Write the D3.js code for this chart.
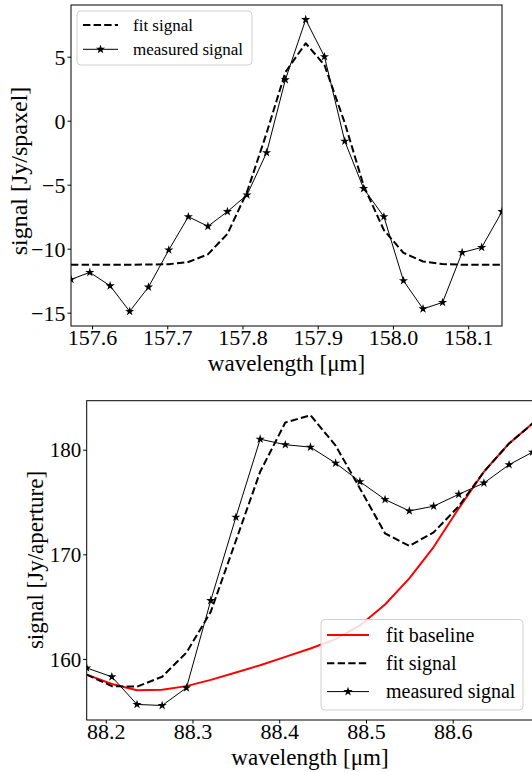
<!DOCTYPE html>
<html>
<head>
<meta charset="utf-8">
<script src="https://cdn.jsdelivr.net/npm/d3@7"></script>
<style>
  html, body { margin: 0; padding: 0; background: #fff; }
  svg { display: block; font-family: "Liberation Serif", "Times New Roman", serif; }
</style>
</head>
<body>
<svg id="chart" width="532" height="772"></svg>
<script>
// ---------- Top panel data ----------
const topWavelength = [157.572, 157.597, 157.624, 157.650, 157.675, 157.702, 157.728, 157.754, 157.780, 157.806,
  157.832, 157.857, 157.884, 157.909, 157.936, 157.961, 157.988, 158.014, 158.040, 158.066, 158.092, 158.118, 158.145];
const topMeasured = [-12.4, -11.85, -12.9, -14.9, -13.0, -10.1, -7.5, -8.25, -7.1, -5.8,
  -2.5, 3.2, 7.9, 5.0, -1.6, -5.3, -7.5, -12.5, -14.7, -14.2, -10.3, -9.9, -7.1];
const topFit = [-11.25, -11.25, -11.25, -11.25, -11.24, -11.21, -11.04, -10.44, -8.84, -5.57,
  -0.97, 3.79, 6.05, 4.35, -0.18, -5.07, -8.55, -10.32, -11.0, -11.2, -11.25, -11.25, -11.25];
const topXTicks = [157.6, 157.7, 157.8, 157.9, 158.0, 158.1];
const topYTicks = [-15, -10, -5, 0, 5];

// ---------- Bottom panel data ----------
const botWavelength = [88.178, 88.207, 88.236, 88.265, 88.293, 88.321, 88.350, 88.378, 88.407, 88.436,
  88.465, 88.493, 88.522, 88.550, 88.578, 88.607, 88.636, 88.665, 88.692];
const botMeasured = [159.14, 158.29, 155.65, 155.55, 157.24, 165.58, 173.55, 181.01, 180.48, 180.25,
  178.72, 176.95, 175.24, 174.15, 174.6, 175.74, 176.82, 178.57, 179.77];
const botFitSignal = [158.5, 157.4, 157.35, 158.3, 160.6, 164.5, 171.3, 177.9, 182.6, 183.3,
  180.4, 176.3, 172.0, 170.8, 172.1, 174.6, 177.9, 180.6, 182.5];
const botBaseline = [158.5, 157.6, 157.0, 157.05, 157.4, 158.0, 158.7, 159.4, 160.2, 161.0,
  161.9, 163.2, 165.2, 167.7, 170.7, 174.4, 177.9, 180.6, 182.5];
const botXTicks = [88.2, 88.3, 88.4, 88.5, 88.6];
const botYTicks = [160, 170, 180];

const svg = d3.select("#chart");
const fmtMinus = v => (v < 0 ? "\u2212" + Math.abs(v) : String(v));

function padded(arrs) {
  const all = arrs.flat();
  const lo = d3.min(all), hi = d3.max(all);
  const p = (hi - lo) * 0.05;
  return [lo - p, hi + p];
}

function panel(cfg) {
  const { box, xs, ys, xTicks, yTicks, xFmt, yFmt, id } = cfg;
  const x = d3.scaleLinear().domain(d3.extent(xs)).range([box.l, box.r]);
  const y = d3.scaleLinear().domain(padded(ys)).range([box.b, box.t]);
  const g = svg.append("g");
  g.append("clipPath").attr("id", id).append("rect")
    .attr("x", box.l).attr("y", box.t).attr("width", box.r - box.l).attr("height", box.b - box.t);

  const xa = g.append("g").attr("transform", `translate(0,${box.b})`)
    .call(d3.axisBottom(x).tickValues(xTicks).tickFormat(xFmt).tickSize(3.5).tickPadding(0));
  const ya = g.append("g").attr("transform", `translate(${box.l},0)`)
    .call(d3.axisLeft(y).tickValues(yTicks).tickFormat(yFmt).tickSize(3.5).tickPadding(2));
  [xa, ya].forEach(a => {
    a.select(".domain").remove();
    a.selectAll("line").attr("stroke", "#000").attr("stroke-width", 1);
    a.selectAll("text").attr("fill", "#000").style("font-family", "'Liberation Serif', 'Times New Roman', serif");
  });
  xa.selectAll("text").attr("font-size", cfg.xTickSize).attr("dy", "0.71em");
  ya.selectAll("text").attr("font-size", cfg.yTickSize).attr("dy", "0.34em");

  g.append("rect").attr("x", box.l).attr("y", box.t)
    .attr("width", box.r - box.l).attr("height", box.b - box.t)
    .attr("fill", "none").attr("stroke", "#000").attr("stroke-width", 1);

  return { x, y, g, clip: `url(#${id})` };
}

function drawLine(p, xs, vals, style) {
  const line = d3.line().x((d, i) => p.x(xs[i])).y(d => p.y(d));
  p.g.append("path").datum(vals).attr("clip-path", p.clip)
    .attr("d", line).attr("fill", "none")
    .attr("stroke", style.color).attr("stroke-width", style.width)
    .attr("stroke-dasharray", style.dash || null)
    .attr("stroke-linejoin", "round");
}
function drawStars(p, xs, vals) {
  const star = d3.symbol().type(d3.symbolStar).size(26);
  p.g.append("g").attr("clip-path", p.clip).selectAll("path").data(vals).join("path")
    .attr("transform", (d, i) => `translate(${p.x(xs[i])},${p.y(d)})`)
    .attr("d", star).attr("fill", "#000");
}

function legend(box, items, fs, handleLen, rowH, textX) {
  const g = svg.append("g");
  g.append("rect").attr("x", box.x).attr("y", box.y).attr("width", box.w).attr("height", box.h)
    .attr("rx", 4).attr("fill", "#fff").attr("fill-opacity", 0.85)
    .attr("stroke", "#d0d0d0").attr("stroke-width", 1);
  items.forEach((it, i) => {
    const cy = box.y + box.firstY + i * rowH;
    const x0 = box.x + 6;
    g.append("line").attr("x1", x0).attr("x2", x0 + handleLen).attr("y1", cy).attr("y2", cy)
      .attr("stroke", it.color).attr("stroke-width", it.width).attr("stroke-dasharray", it.dash || null);
    if (it.star) {
      g.append("path").attr("transform", `translate(${x0 + handleLen / 2},${cy})`)
        .attr("d", d3.symbol().type(d3.symbolStar).size(26)).attr("fill", "#000");
    }
    g.append("text").attr("x", box.x + textX).attr("y", cy).attr("dy", "0.33em")
      .attr("font-size", fs).attr("fill", "#000").text(it.label);
  });
}

// ---------- Top panel ----------
const topPanel = panel({
  id: "clipTop", box: { l: 71, r: 502, t: 5, b: 326 },
  xs: topWavelength, ys: [topMeasured, topFit],
  xTicks: topXTicks, yTicks: topYTicks,
  xFmt: d3.format(".1f"), yFmt: fmtMinus,
  xTickSize: 22, yTickSize: 22
});
drawLine(topPanel, topWavelength, topFit, { color: "#000", width: 2, dash: "7.4,3.2" });
drawLine(topPanel, topWavelength, topMeasured, { color: "#000", width: 1 });
drawStars(topPanel, topWavelength, topMeasured);

svg.append("text").attr("x", 286.5).attr("y", 370.5).attr("text-anchor", "middle")
  .attr("font-size", 23).text("wavelength [\u03bcm]");
svg.append("text").attr("transform", "translate(27,171) rotate(-90)").attr("text-anchor", "middle")
  .attr("font-size", 24).text("signal [Jy/spaxel]");

legend({ x: 77, y: 11, w: 175, h: 54, firstY: 14 }, [
  { label: "fit signal", color: "#000", width: 2, dash: "7.4,3.2" },
  { label: "measured signal", color: "#000", width: 1, star: true }
], 17, 35, 24.3, 56);

// ---------- Bottom panel ----------
const botPanel = panel({
  id: "clipBot", box: { l: 86.7, r: 532.5, t: 400.7, b: 720 },
  xs: botWavelength, ys: [botMeasured, botFitSignal, botBaseline],
  xTicks: botXTicks, yTicks: botYTicks,
  xFmt: d3.format(".1f"), yFmt: d3.format("d"),
  xTickSize: 22, yTickSize: 21
});
drawLine(botPanel, botWavelength, botBaseline, { color: "#ff0000", width: 2 });
drawLine(botPanel, botWavelength, botFitSignal, { color: "#000", width: 2, dash: "7.4,3.2" });
drawLine(botPanel, botWavelength, botMeasured, { color: "#000", width: 1 });
drawStars(botPanel, botWavelength, botMeasured);

svg.append("text").attr("x", 310).attr("y", 764.5).attr("text-anchor", "middle")
  .attr("font-size", 23).text("wavelength [\u03bcm]");
svg.append("text").attr("transform", "translate(43,560) rotate(-90)").attr("text-anchor", "middle")
  .attr("font-size", 23).text("signal [Jy/aperture]");

legend({ x: 321, y: 619.5, w: 202, h: 90.5, firstY: 15.5 }, [
  { label: "fit baseline", color: "#ff0000", width: 2 },
  { label: "fit signal", color: "#000", width: 2, dash: "7.4,3.2" },
  { label: "measured signal", color: "#000", width: 1, star: true }
], 20, 42, 28.3, 65);
</script>
</body>
</html>
